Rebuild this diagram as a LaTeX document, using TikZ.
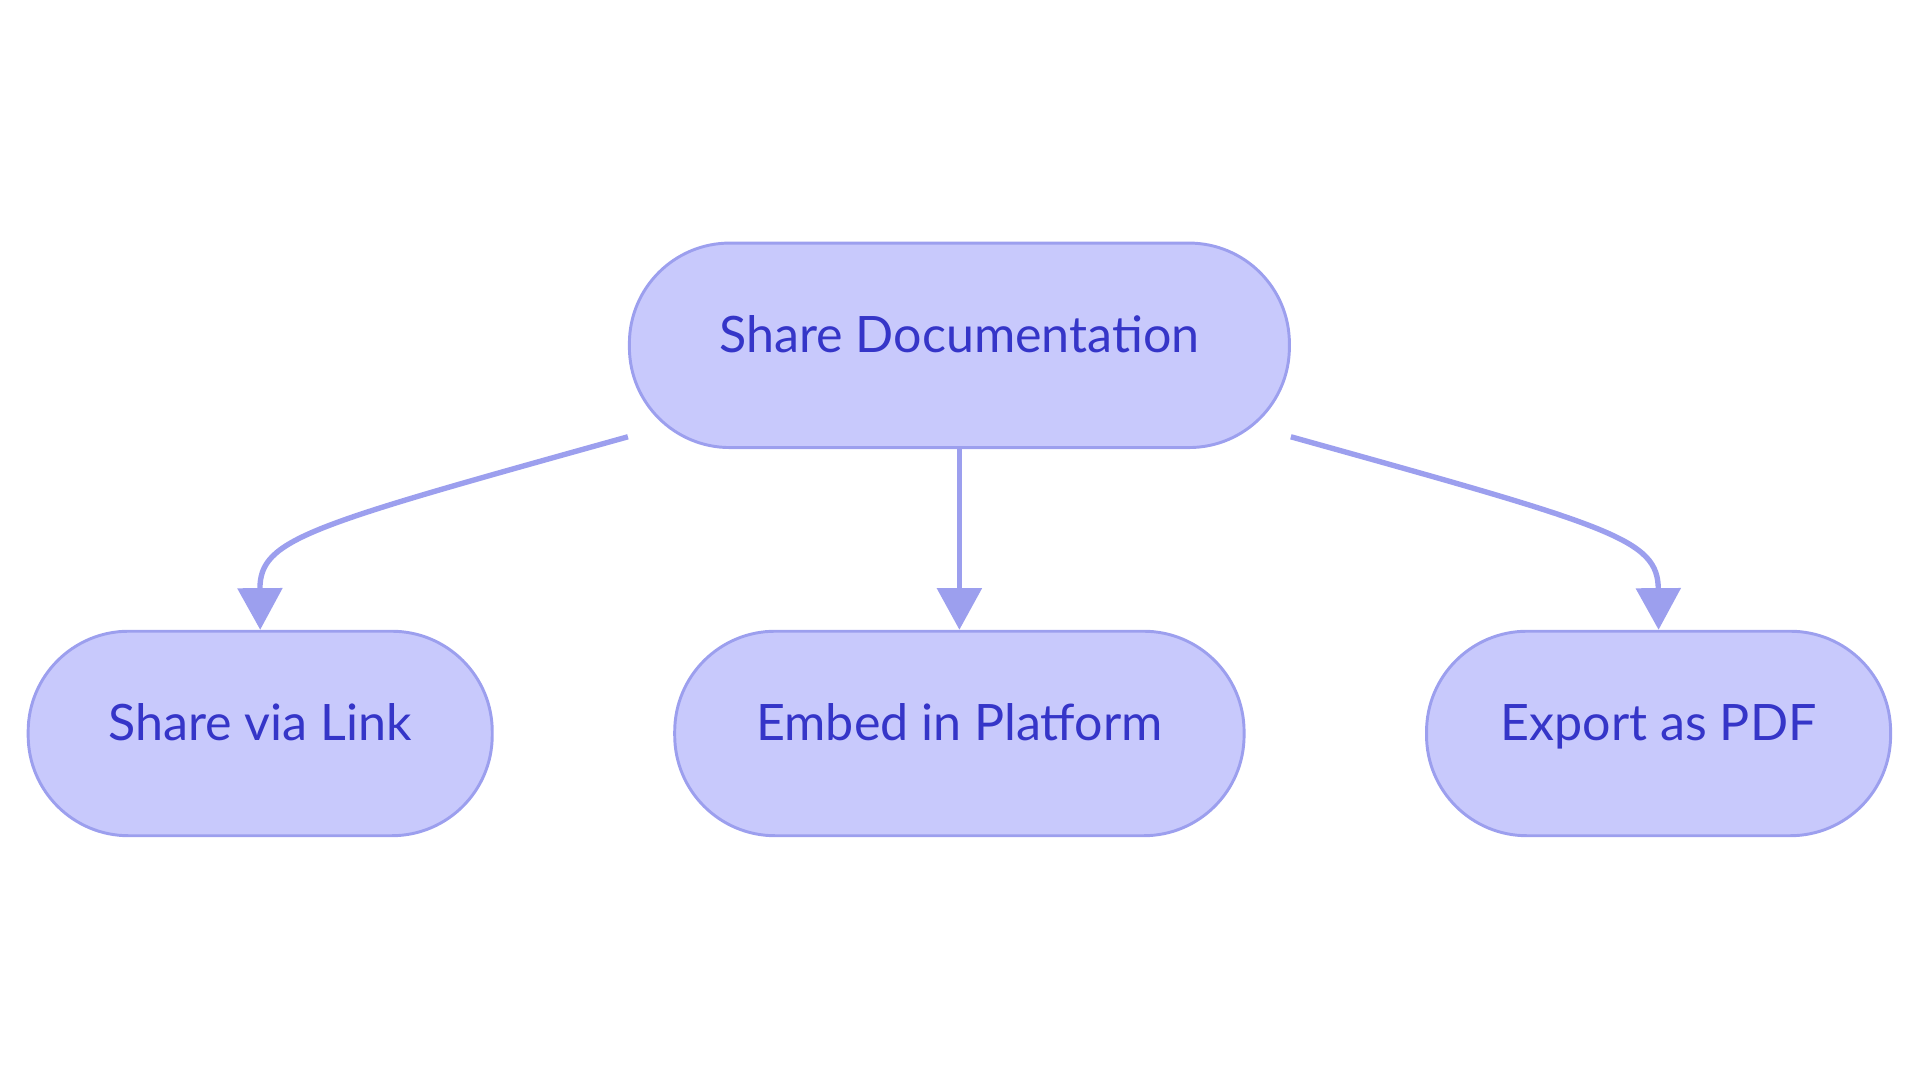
\documentclass[tikz,border=0pt]{standalone}
\usepackage{fontspec}
\setmainfont{Lato}
\usetikzlibrary{arrows.meta,positioning}
\definecolor{boxfill}{HTML}{C8C9FC}
\definecolor{boxline}{HTML}{9C9FEE}
\definecolor{boxtext}{HTML}{3535C8}
\begin{document}
\begin{tikzpicture}
    [x=0.5pt,y=-0.5pt,
      pill/.style={draw=boxline,line width=1.2pt,fill=boxfill,rounded corners=41pt,
          minimum height=83.5pt,text=boxtext,text height=0.78em,text depth=0.22em,
          font=\fontsize{20.5}{24}\selectfont},
      link/.style={draw=boxline,line width=2.2pt,-{Triangle[length=17pt,width=18pt]}}
    ]
    \useasboundingbox (0,0) rectangle (1568,884);
    \node [pill,minimum width=269.5pt] (share) at (783.5,282) {Share Documentation};
    \node [pill,minimum width=189.5pt] (link) at (212.5,599) {Share via Link};
    \node [pill,minimum width=232.5pt] (embed) at (783.5,599) {Embed in Platform};
    \node [pill,minimum width=189.5pt] (pdf) at (1354.5,599) {Export as PDF};
    \coordinate (sl) at ([yshift=5pt]share.south west);
    \coordinate (sr) at ([yshift=5pt]share.south east);
    \draw [link] (sl) .. controls (250,430) and (212,440) .. (link.north);
    \draw [link] (share.south) -- (embed.north);
    \draw [link] (sr) .. controls (1317,430) and (1354,440) .. (pdf.north);
\end{tikzpicture}
\end{document}
